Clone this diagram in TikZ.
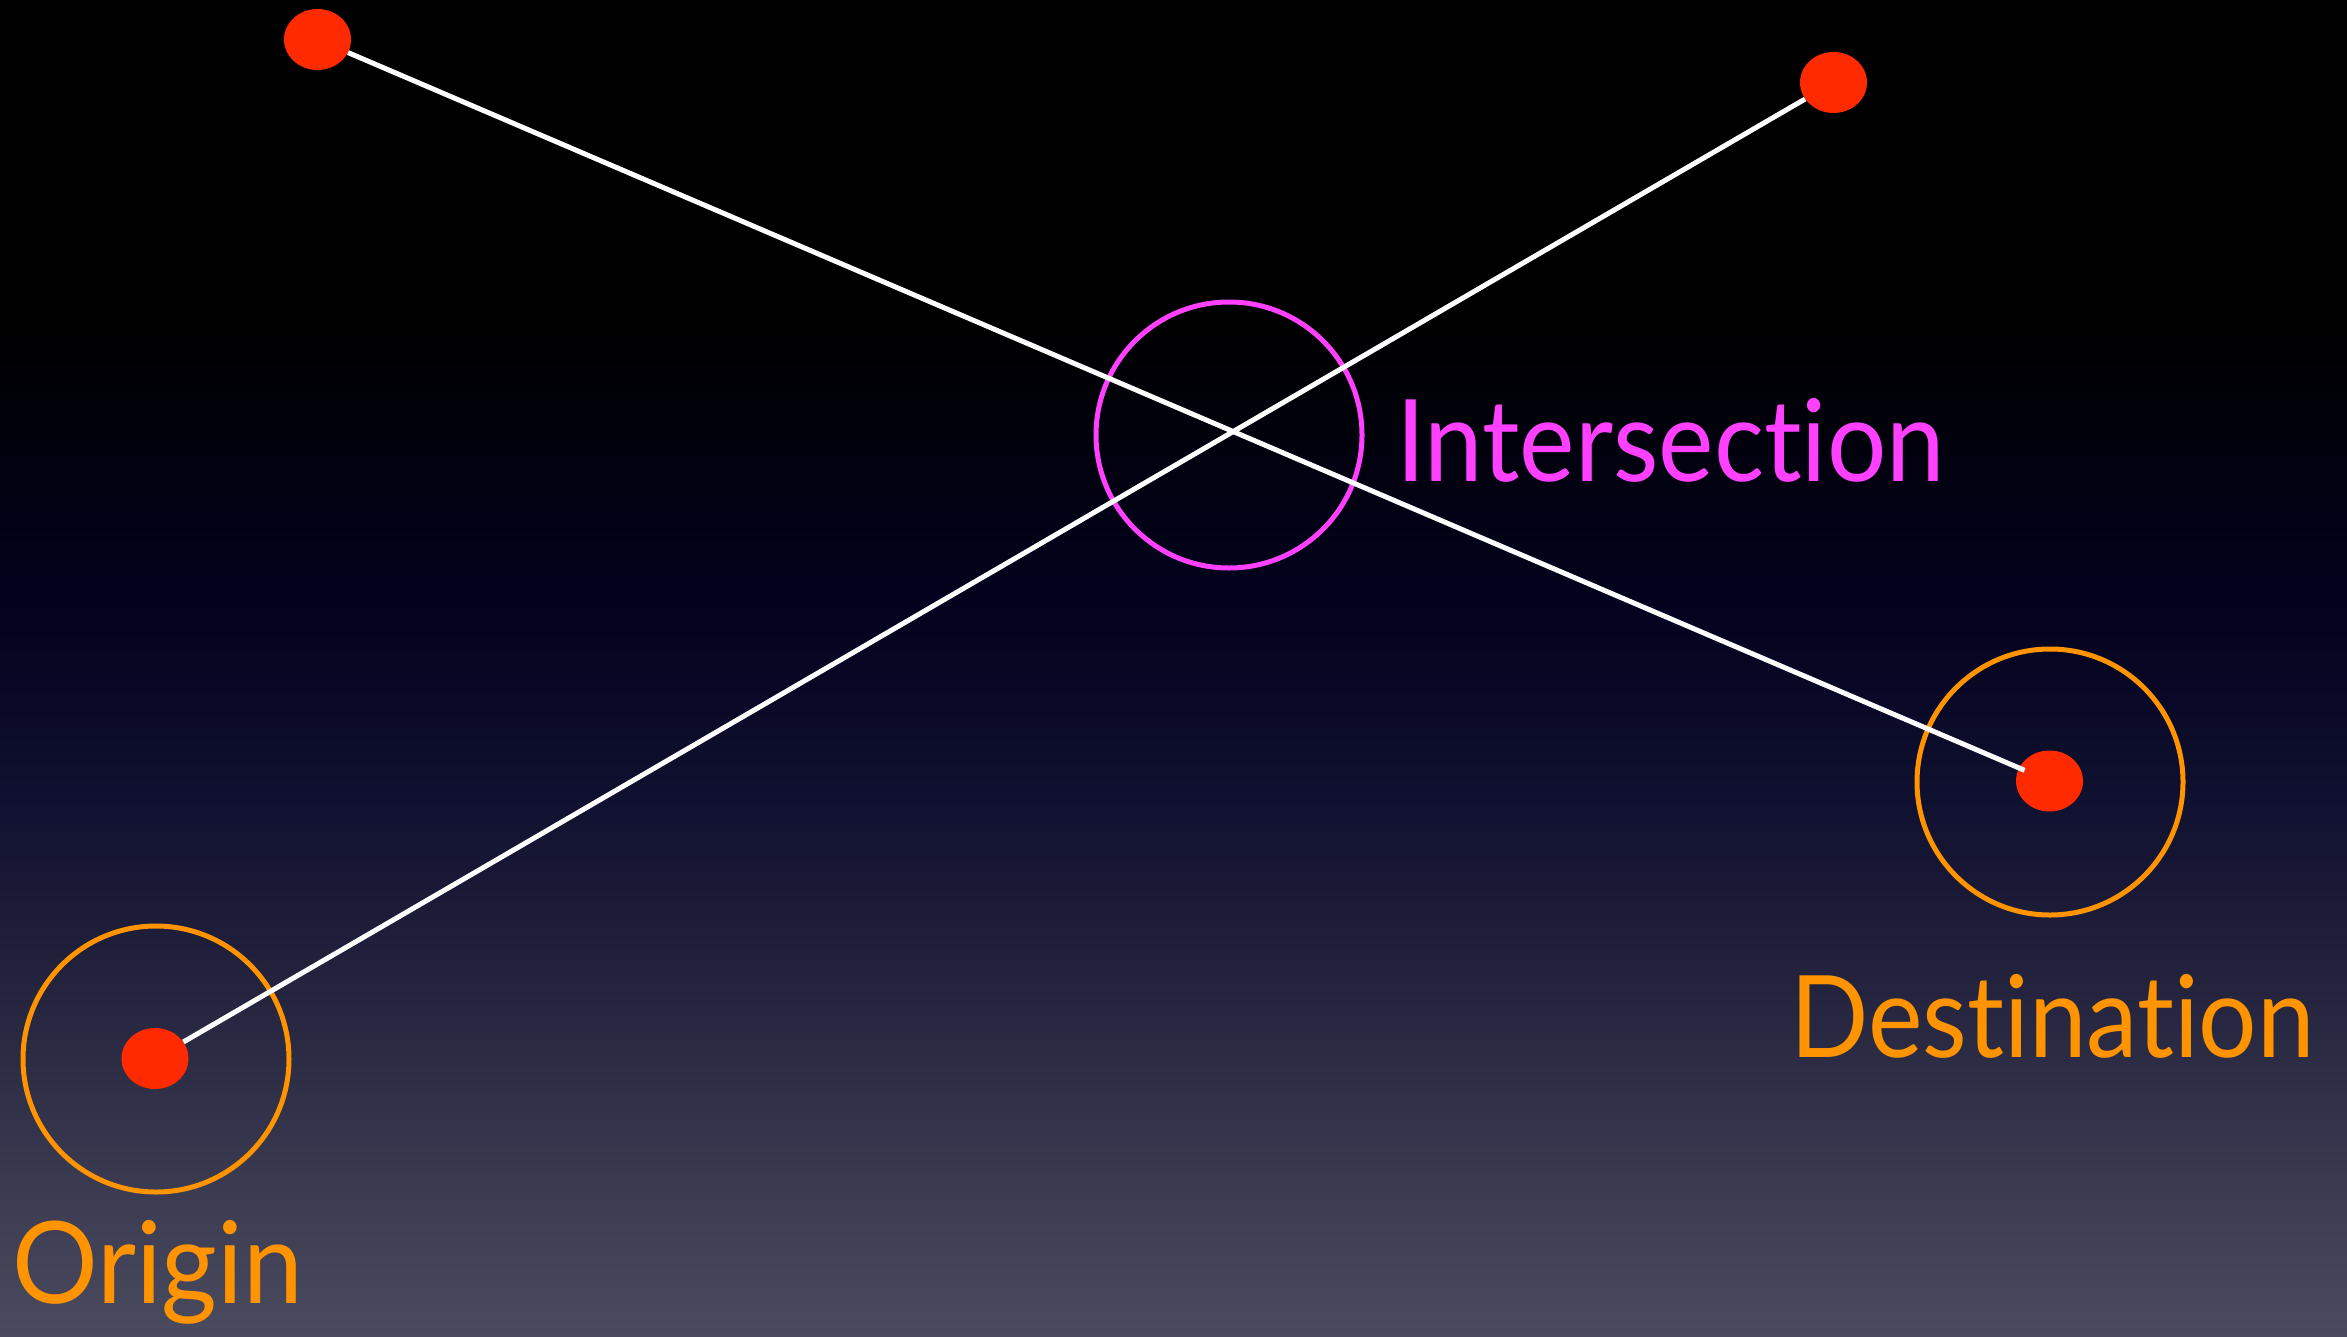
\documentclass[tikz,border=0pt]{standalone}
\usepackage{fontspec}
\setmainfont{Lato}[Ligatures={NoCommon,NoDiscretionary,NoRequired,NoContextual}]
\usetikzlibrary{shapes.geometric}
\definecolor{bgA}{HTML}{000000}
\definecolor{bgB}{HTML}{02021E}
\definecolor{bgC}{HTML}{101030}
\definecolor{bgD}{HTML}{25253F}
\definecolor{bgE}{HTML}{4B4B5F}
\definecolor{dotred}{HTML}{FF2A00}
\definecolor{ringorange}{HTML}{FF9300}
\definecolor{ringmagenta}{HTML}{FF40FF}
\pgfdeclareverticalshading{bgshade}{100bp}{color(0bp)=(bgE); color(25bp)=(bgE); color(37.57bp)=(bgD); color(45.06bp)=(bgC); color(52.54bp)=(bgB); color(63.02bp)=(bgA); color(75bp)=(bgA); color(100bp)=(bgA)}
\newcommand{\narrowtext}[2]{\scalebox{#1}[1]{#2}}
\tikzset{
  dot/.style={ellipse, fill=dotred, draw=none, inner sep=0pt, minimum width=67pt, minimum height=61pt},
  ring/.style={circle, draw=#1, line width=5pt, inner sep=0pt, minimum size=266pt},
  wire/.style={draw=white, line width=5pt},
  label/.style={text=#1, font=\fontsize{114}{120}\selectfont, inner sep=0pt, anchor=base west}
}
\begin{document}
\begin{tikzpicture}[x=1pt, y=-1pt]
\shade[shading=bgshade] (0,0) rectangle (2347,1336);
\useasboundingbox (0,0) rectangle (2347,1336);
% rings
\node[ring=ringmagenta] (inter) at (1229,435) {};
\node[ring=ringorange] (destring) at (2050,782) {};
\node[ring=ringorange] (origring) at (156,1059) {};
% dots
\node[dot] (tl) at (317.5,39.5) {};
\node[dot] (tr) at (1833.5,82.5) {};
\node[dot] (dest) at (2049.5,781) {};
\node[dot] (orig) at (155,1058.5) {};
% lines
\draw[wire, shorten >=-6pt] (tl) -- (dest);
\draw[wire] (orig) -- (tr);
% labels
\node[label=ringmagenta] (tinter) at (1396,481) {\narrowtext{0.92}{Intersection}};
\node[label=ringorange] (tdest) at (1790,1057) {\narrowtext{0.905}{Destination}};
\node[label=ringorange] (torig) at (12,1303) {\narrowtext{0.94}{Origin}};
\end{tikzpicture}
\end{document}
